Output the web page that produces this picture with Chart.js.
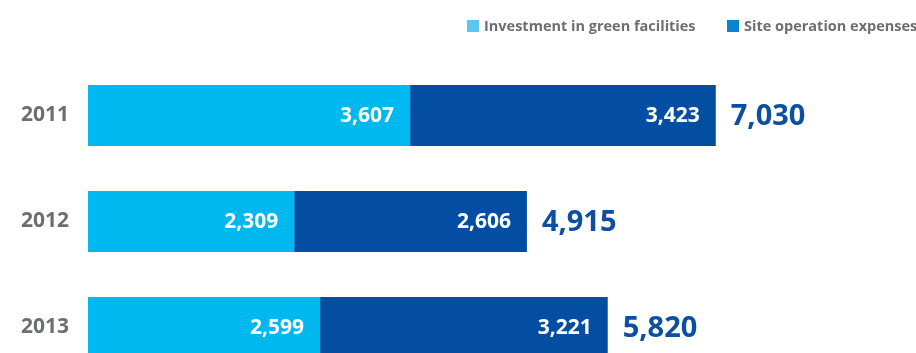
<!DOCTYPE html>
<html>
<head>
<meta charset="utf-8">
<script src="https://cdn.jsdelivr.net/npm/chart.js@4/dist/chart.umd.min.js"></script>
<style>
  html, body { margin: 0; padding: 0; background: #fff; overflow: hidden; }
  #costChart { display: block; }
</style>
</head>
<body>
<canvas id="costChart" width="916" height="353"></canvas>
<script>
// Environmental spending per year, split by type
const years = ['2011', '2012', '2013'];
const greenInvestment = [3607, 2309, 2599];
const siteOperation = [3423, 2606, 3221];
const seriesNames = ['Investment in green facilities', 'Site operation expenses'];

const BAR_COLORS = ['#00b8f0', '#034ea2'];
const LEGEND_COLORS = ['#5bc7f0', '#0a82cf'];
const GREY = '#6d6e71';
const FONT = "'Open Sans', sans-serif";
const ROWS_BOTTOM = 380.5; // last row runs past the bottom edge of the canvas

function fmt(n) {
    return n.toLocaleString('en-US');
}

// stretch the category axis below the canvas so rows keep their spacing
const stretchRows = {
    id: 'stretchRows',
    afterLayout(chart) {
        const y = chart.scales.y;
        y.bottom = ROWS_BOTTOM;
        y.height = y.bottom - y.top;
        y.configure();
    }
};

// value inside each segment + stacked total after the last one
const barLabels = {
    id: 'barLabels',
    afterDatasetsDraw(chart) {
        const ctx = chart.ctx;
        const nSets = chart.data.datasets.length;
        ctx.save();
        ctx.textBaseline = 'middle';
        chart.data.datasets.forEach((ds, di) => {
            const meta = chart.getDatasetMeta(di);
            meta.data.forEach((bar, i) => {
                ctx.font = 'bold 21px ' + FONT;
                ctx.fillStyle = '#ffffff';
                ctx.textAlign = 'right';
                ctx.fillText(fmt(ds.data[i]), bar.x - 16, bar.y + 1);
                if (di === nSets - 1) {
                    let total = 0;
                    chart.data.datasets.forEach(d => { total += d.data[i]; });
                    ctx.font = 'bold 29px ' + FONT;
                    ctx.fillStyle = '#0b4ea2';
                    ctx.textAlign = 'left';
                    ctx.fillText(fmt(total), bar.x + 15, bar.y + 1);
                }
            });
        });
        ctx.restore();
    }
};

// legend in the top right corner
const topLegend = {
    id: 'topLegend',
    afterDraw(chart) {
        const ctx = chart.ctx;
        ctx.save();
        ctx.font = 'bold 14.5px ' + FONT;
        ctx.textBaseline = 'middle';
        ctx.textAlign = 'left';
        const starts = [467, 727];
        seriesNames.forEach((name, i) => {
            const x = starts[i];
            ctx.fillStyle = LEGEND_COLORS[i];
            ctx.fillRect(x, 20, 12, 12);
            ctx.fillStyle = GREY;
            ctx.fillText(name, x + 17, 26.5);
        });
        ctx.restore();
    }
};

new Chart(document.getElementById('costChart'), {
    type: 'bar',
    data: {
        labels: years,
        datasets: [
            { label: seriesNames[0], data: greenInvestment, backgroundColor: BAR_COLORS[0] },
            { label: seriesNames[1], data: siteOperation, backgroundColor: BAR_COLORS[1] }
        ]
    },
    options: {
        indexAxis: 'y',
        responsive: false,
        animation: false,
        layout: { padding: { top: 62.5, left: 0, right: 0, bottom: 0 } },
        datasets: { bar: { categoryPercentage: 1, barPercentage: 0.575, borderWidth: 0 } },
        plugins: { legend: { display: false }, tooltip: { enabled: false } },
        scales: {
            x: { stacked: true, display: false, min: 0, max: 9272 },
            y: {
                stacked: true,
                grid: { display: false, drawTicks: false },
                border: { display: false },
                ticks: { color: GREY, padding: 19, font: { family: FONT, size: 21, weight: 'bold' } },
                afterFit(scale) { scale.width = 88; }
            }
        }
    },
    plugins: [stretchRows, barLabels, topLegend]
});
</script>
</body>
</html>
